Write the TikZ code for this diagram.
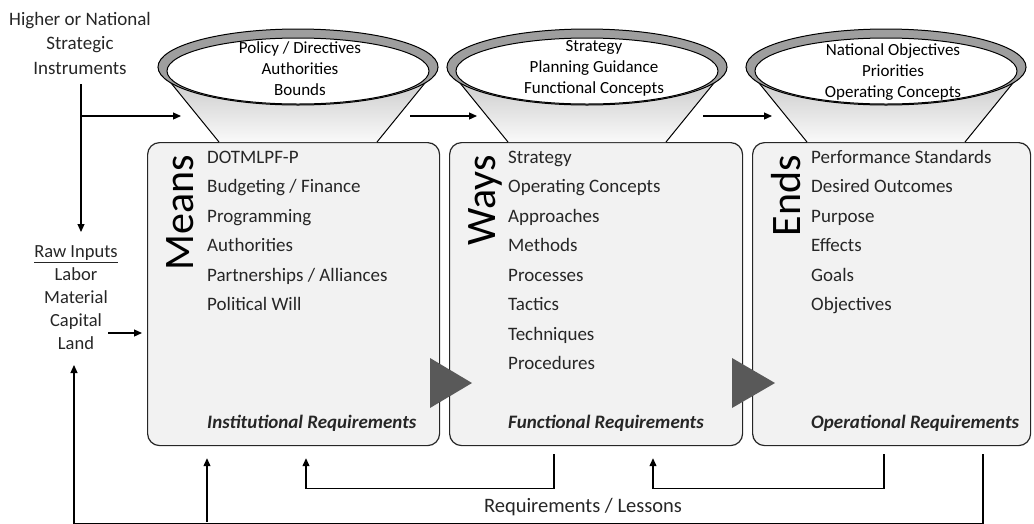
\documentclass[tikz,border=0pt]{standalone}
\usepackage{fontspec}
\setmainfont{Carlito}
\usetikzlibrary{arrows.meta}
\definecolor{boxfill}{HTML}{F2F2F2}
\definecolor{tri}{HTML}{595959}
\definecolor{txt}{HTML}{262626}
\tikzset{
  box/.style={draw=black!85, line width=1.2pt, fill=boxfill, rounded corners=12pt,
    minimum width=#1, minimum height=303pt, anchor=north west, inner sep=0pt},
  arr/.style={black, line width=1.2pt, -{Triangle[length=8pt,width=7pt]}},
  ln/.style={black, line width=1.2pt},
  item/.style={anchor=base west, inner sep=0pt, text=txt, font=\fontsize{19}{23}\selectfont},
  big/.style={rotate=90, anchor=base east, inner sep=0pt, font=\fontsize{42}{50}\selectfont},
  req/.style={anchor=base west, inner sep=0pt, text=txt, font=\fontsize{19}{22}\selectfont\bfseries\itshape},
  ftext/.style={align=center, inner sep=0pt, font=\fontsize{17}{21}\selectfont},
  side/.style={align=center, inner sep=0pt, text=txt, font=\fontsize{19}{24.5}\selectfont}
}
\begin{document}
\begin{tikzpicture}[x=1pt,y=1pt]
\useasboundingbox (0,0) rectangle (1034,-523);
% boxes
\node[box=292pt] (means) at (147,-142) {};
\node[box=293pt] (ways) at (449,-142) {};
\node[box=278pt] (ends) at (752,-142) {};
% funnels
\foreach \cx in {298,587,886} {
  \shade[top color=black!24, bottom color=black!2]
    (\cx-140,-67) -- (\cx-79,-142) -- (\cx+79,-142) -- (\cx+140,-67) -- cycle;
  \draw[black, line width=1pt] (\cx-140,-67) -- (\cx-79,-142) (\cx+79,-142) -- (\cx+140,-67);
  \draw[black, line width=1pt, fill=black!38] (\cx,-67) ellipse [x radius=140, y radius=38];
  \draw[black, line width=1pt, fill=white] (\cx,-71) ellipse [x radius=131, y radius=33];
}
\node[ftext] (pol) at (300,-69) {Policy / Directives\\Authorities\\Bounds};
\node[ftext] (str) at (594,-68) {Strategy\\Planning Guidance\\Functional Concepts};
\node[ftext] (nat) at (893,-72) {National Objectives\\Priorities\\Operating Concepts};
% box contents
\node[big] (meanslbl) at (193,-155) {Means};
\node[big] (wayslbl) at (495,-155) {Ways};
\node[big] (endslbl) at (800,-155) {Ends};
\foreach \t [count=\i] in {DOTMLPF-P,Budgeting / Finance,Programming,Authorities,Partnerships / Alliances,Political Will}
  \node[item] (means\i) at (207,{-163-29.5*(\i-1)}) {\t};
\foreach \t [count=\i] in {Strategy,Operating Concepts,Approaches,Methods,Processes,Tactics,Techniques,Procedures}
  \node[item] (ways\i) at (508,{-163-29.5*(\i-1)}) {\t};
\foreach \t [count=\i] in {Performance Standards,Desired Outcomes,Purpose,Effects,Goals,Objectives}
  \node[item] (ends\i) at (811,{-163-29.5*(\i-1)}) {\t};
\node[req] (meansreq) at (207,-428) {Institutional Requirements};
\node[req] (waysreq) at (508,-428) {Functional Requirements};
\node[req] (endsreq) at (811,-428) {Operational Requirements};
% flow triangles
\fill[tri] (430,-358) -- (472,-383) -- (430,-408) -- cycle;
\fill[tri] (732,-358) -- (775,-383) -- (732,-408) -- cycle;
% inputs
\node[side] (higher) at (80,-43) {Higher or National\\Strategic\\Instruments};
\node[side, font=\fontsize{18.5}{23}\selectfont] (raw) at (76,-298) {\underline{Raw Inputs}\\Labor\\Material\\Capital\\Land};
\coordinate (hi0) at (81,-84);
\coordinate (hi1) at (81,-232);
\coordinate (split) at (81,-116);
\coordinate (f1) at (181,-116);
\coordinate (f2a) at (410,-116);
\coordinate (f2b) at (477,-116);
\coordinate (f3a) at (703,-116);
\coordinate (f3b) at (772,-116);
\coordinate (r0) at (108,-333);
\coordinate (r1) at (142,-333);
\coordinate (land) at (74,-365);
\coordinate (loop1) at (207,-522);
\draw[arr] (hi0) -- (hi1);
\draw[arr] (split) -- (f1);
\draw[arr] (f2a) -- (f2b);
\draw[arr] (f3a) -- (f3b);
\draw[arr] (r0) -- (r1);
% feedback
\draw[arr] ([xshift=105pt,yshift=-8pt]ways.south west) -- ++(0,-34)
  -| ([xshift=159pt,yshift=-12pt]means.south west);
\draw[arr] ([xshift=132pt,yshift=-8pt]ends.south west) -- ++(0,-34)
  -| ([xshift=204pt,yshift=-12pt]ways.south west);
\draw[arr] ([xshift=231pt,yshift=-8pt]ends.south west) -- ++(0,-69) -| (land);
\draw[arr] (loop1) -- ([xshift=60pt,yshift=-12pt]means.south west);
\node[text=txt, font=\fontsize{20.5}{24}\selectfont] (lessons) at (583,-507) {Requirements / Lessons};
\end{tikzpicture}
\end{document}
